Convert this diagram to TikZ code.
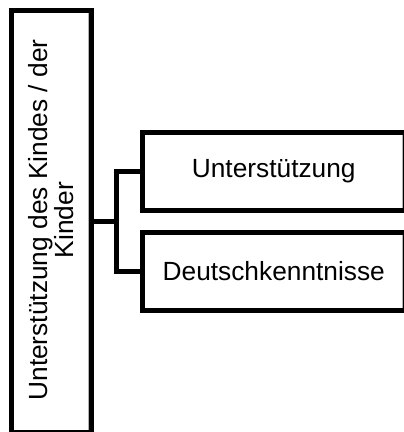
\documentclass[tikz,border=0pt]{standalone}
\usepackage{fontspec}
\setmainfont{Liberation Sans}
\begin{document}
\begin{tikzpicture}[x=1pt,y=-1pt,
  box/.style={draw=black, fill=white, line width=5pt, inner sep=0pt,
    path picture={\draw[gray!60, line width=1pt]
      ([xshift=-3pt]path picture bounding box.north east) --
      ([xshift=-3pt]path picture bounding box.south east);}},
  conn/.style={draw=black, line width=5pt, line join=miter},
  lbl/.style={font=\fontsize{26.3}{22.5}\selectfont}]
\useasboundingbox (0,0) rectangle (404,432);
\clip (0,0) rectangle (404,432);
\node[box, minimum width=80pt, minimum height=422pt] (L) at (51,221) {};
\node[lbl, rotate=90, align=center] (Lt) at (51,220)
  {Unterstützung des Kindes / der\\Kinder};
\node[box, minimum width=263.5pt, minimum height=78pt, lbl] (A) at (273.75,171) {Unterstützung};
\node[box, minimum width=263.5pt, minimum height=78pt, lbl] (B) at (273.75,271) {Deutschkenntnisse};
\coordinate (J) at (116,221);
\draw[conn] (L.east) -- (J);
\draw[conn] (A.west) -| (J) |- (B.west);
\end{tikzpicture}
\end{document}
